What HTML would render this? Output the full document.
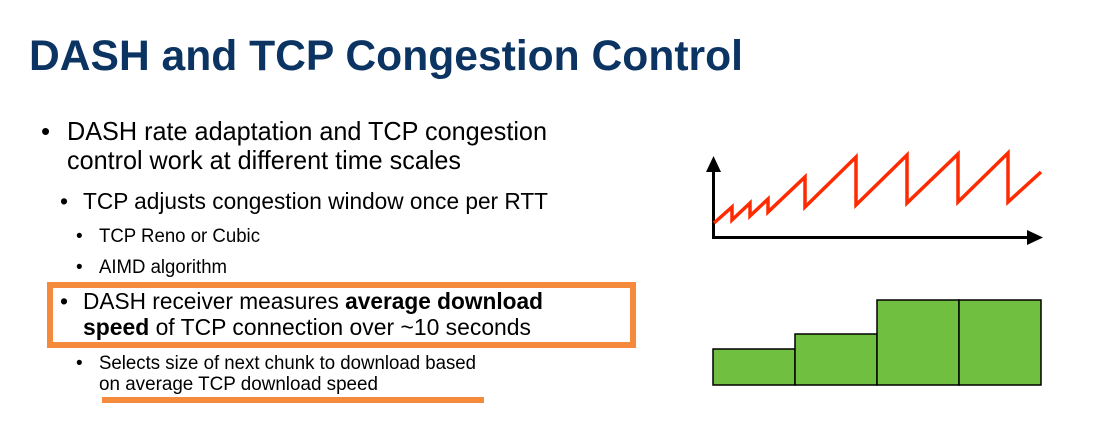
<!DOCTYPE html>
<html><head><meta charset="utf-8"><style>
html,body{margin:0;padding:0;background:#fff;}
svg{display:block;}
text{font-family:"Liberation Sans",Arial,sans-serif;fill:#000;}
</style></head><body>
<svg width="1110" height="421" viewBox="0 0 1110 421" xmlns="http://www.w3.org/2000/svg">
<rect width="1110" height="421" fill="#fff"/>
<text x="29" y="70" font-size="43" font-weight="bold" style="fill:#0b3463" textLength="714" lengthAdjust="spacingAndGlyphs">DASH and TCP Congestion Control</text>

<text x="41" y="140" font-size="26">•</text>
<text x="67" y="140" font-size="26" textLength="480" lengthAdjust="spacingAndGlyphs">DASH rate adaptation and TCP congestion</text>
<text x="67" y="169" font-size="26" textLength="394" lengthAdjust="spacingAndGlyphs">control work at different time scales</text>

<text x="60" y="209" font-size="23">•</text>
<text x="83" y="209" font-size="23" textLength="465" lengthAdjust="spacingAndGlyphs">TCP adjusts congestion window once per RTT</text>

<text x="76" y="242" font-size="19">•</text>
<text x="99" y="242" font-size="19" textLength="161" lengthAdjust="spacingAndGlyphs">TCP Reno or Cubic</text>
<text x="76" y="273" font-size="19">•</text>
<text x="99" y="273" font-size="19" textLength="128" lengthAdjust="spacingAndGlyphs">AIMD algorithm</text>

<rect x="50" y="285" width="583" height="60" fill="none" stroke="#f58a3c" stroke-width="6"/>
<text x="60" y="309" font-size="23">•</text>
<text x="83" y="309" font-size="23" textLength="460" lengthAdjust="spacingAndGlyphs">DASH receiver measures <tspan font-weight="bold">average download</tspan></text>
<text x="83" y="335" font-size="23" textLength="448" lengthAdjust="spacingAndGlyphs"><tspan font-weight="bold">speed</tspan> of TCP connection over ~10 seconds</text>

<text x="76" y="369" font-size="19">•</text>
<text x="99" y="369" font-size="19" textLength="377" lengthAdjust="spacingAndGlyphs">Selects size of next chunk to download based</text>
<text x="99" y="390" font-size="19" textLength="279" lengthAdjust="spacingAndGlyphs">on average TCP download speed</text>
<rect x="102" y="397" width="382" height="6" fill="#f58a3c"/>

<!-- chart -->
<line x1="713.5" y1="238" x2="713.5" y2="170" stroke="#000" stroke-width="3"/>
<polygon points="713.5,156 706,172 721,172" fill="#000"/>
<line x1="712" y1="237.5" x2="1028" y2="237.5" stroke="#000" stroke-width="3"/>
<polygon points="1043,237.5 1027,230 1027,245" fill="#000"/>
<polyline fill="none" stroke="#ff2a00" stroke-width="3.5" stroke-linejoin="miter" points="714,223 732,207 732,220 750,203 750,216 768,199 768,212 805,177 805,207 856,157 856,205 907,155 907,203 958,154 958,202 1008,153 1008,202 1041,172"/>

<g fill="#70bf41" stroke="#000" stroke-width="1.5">
<rect x="713" y="349" width="82" height="36"/>
<rect x="795" y="334" width="82" height="51"/>
<rect x="877" y="300" width="82" height="85"/>
<rect x="959" y="300" width="82" height="85"/>
</g>
</svg>
</body></html>
